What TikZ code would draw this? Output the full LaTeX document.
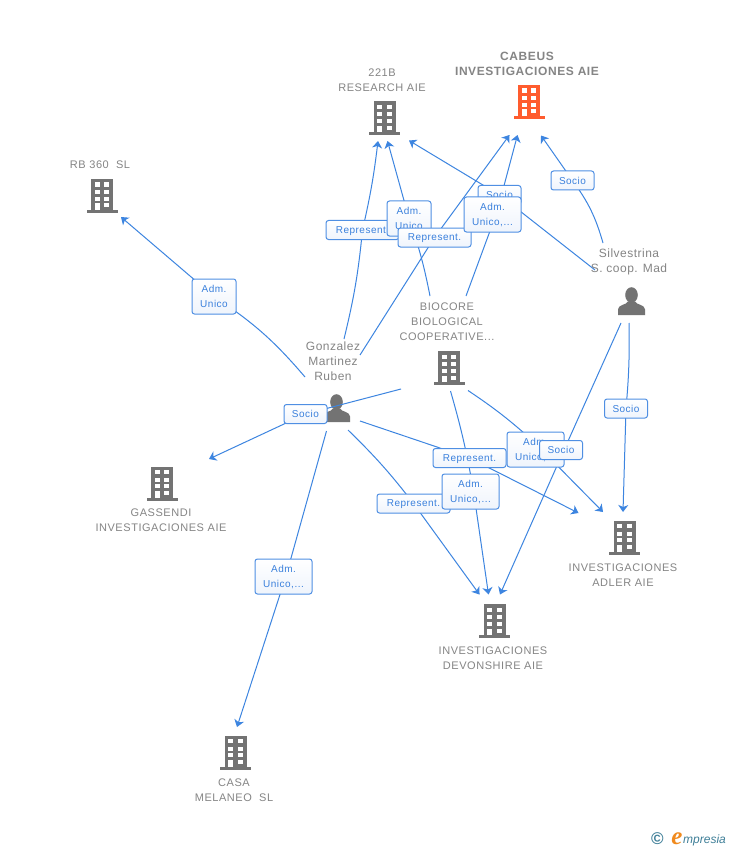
\documentclass[tikz,border=0pt]{standalone}
\usepackage{fontspec}
\setmainfont{Liberation Sans}
\newfontfamily\logoserif{Liberation Serif}
\newfontfamily\capfont[LetterSpace=5]{Liberation Sans}
\newfontfamily\capbigfont[LetterSpace=4]{Liberation Sans}
\newfontfamily\capboldfont[LetterSpace=4.8]{Liberation Sans Bold}
\newfontfamily\tagfont[LetterSpace=5]{Liberation Sans}
\usetikzlibrary{arrows.meta,backgrounds}
\definecolor{linkblue}{HTML}{3D85E0}
\definecolor{boxedge}{HTML}{4F8FE3}
\definecolor{boxtext}{HTML}{3A80DC}
\definecolor{boxlow}{HTML}{EFF4FC}
\definecolor{iconGray}{HTML}{737373}
\definecolor{capGray}{HTML}{858585}
\definecolor{hotOrange}{HTML}{FF5C2E}
\definecolor{logoTeal}{HTML}{3F7F98}
\definecolor{logoOrange}{HTML}{F08A1E}
\newcommand{\towericon}[1]{%
  \begin{scope}[shift={(path picture bounding box.center)}]
    \fill[#1] (-15.5,14) rectangle (15.5,17);
    \fill[#1] (-11,-17) rectangle (11,15);
    \fill[white] (-7.5,-13.5) rectangle (-2.5,-9.3);
    \fill[white] (2,-13.5) rectangle (7,-9.3);
    \fill[white] (-7.5,-6) rectangle (-2.5,-2);
    \fill[white] (2,-6) rectangle (7,-2);
    \fill[white] (-7.5,0.8) rectangle (-2.5,4.8);
    \fill[white] (2,0.8) rectangle (7,4.8);
    \fill[white] (-7.5,7.5) rectangle (-2.5,14);
    \fill[white] (2,7.5) rectangle (7,11.5);
  \end{scope}}
\newcommand{\manicon}{%
  \begin{scope}[shift={(path picture bounding box.center)}]
    \fill[iconGray] (0,-6.5) ellipse (6.3 and 7.8);
    \fill[iconGray] (-13.5,13.5) -- (-13.5,8) .. controls (-13.5,3) and (-5,3.5) .. (-3.5,0)
      -- (3.5,0) .. controls (5,3.5) and (13.5,3) .. (13.5,8) -- (13.5,13.5) -- cycle;
  \end{scope}}
\tikzset{
  x=1pt,y=-1pt,
  conn/.style={draw=linkblue,line width=1pt},
  linkarrow/.style={conn,-{Stealth[length=7pt,width=10pt,inset=2pt]}},
  towerbox/.style={minimum width=32pt,minimum height=36pt,inner sep=0pt,path picture={\towericon{iconGray}}},
  hottower/.style={minimum width=32pt,minimum height=36pt,inner sep=0pt,path picture={\towericon{hotOrange}}},
  manbox/.style={minimum width=28pt,minimum height=30pt,inner sep=0pt,path picture={\manicon}},
  capsmall/.style={text=capGray,font=\capfont\fontsize{11}{15}\selectfont,align=center,inner sep=0pt},
  capbig/.style={text=capGray,font=\capbigfont\fontsize{12}{15}\selectfont,align=center,inner sep=0pt},
  capbold/.style={text=capGray,font=\capboldfont\fontsize{12}{15}\selectfont,align=center,inner sep=0pt},
  tagbox/.style={draw=boxedge,line width=1pt,rounded corners=2.5pt,top color=white,bottom color=boxlow,
    text=boxtext,font=\tagfont\fontsize{10}{15}\selectfont,align=center,inner sep=0pt,text depth=0pt},
  tagS/.style={tagbox,minimum width=43pt,minimum height=19pt},
  tagR/.style={tagbox,minimum width=73pt,minimum height=19pt},
  tagA/.style={tagbox,minimum width=44pt,minimum height=35pt},
  tagU/.style={tagbox,minimum width=57pt,minimum height=35pt},
}
\begin{document}
\begin{tikzpicture}
\useasboundingbox (0,0) rectangle (728,850);

% captions
\node[capbold] (capCabeus) at (527,63.5) {CABEUS\\INVESTIGACIONES AIE};
\node[capsmall] (cap221) at (382,80) {221B\\RESEARCH AIE};
\node[capsmall] (capRB) at (100,165) {RB 360\ \ SL};
\node[capbig] (capSilv) at (629,262) {Silvestrina\\S. coop. Mad};
\node[capsmall] (capBio) at (447,322) {BIOCORE\\BIOLOGICAL\\COOPERATIVE...};
\node[capbig] (capGon) at (333,361) {Gonzalez\\Martinez\\Ruben};
\node[capsmall] (capGas) at (161,520) {GASSENDI\\INVESTIGACIONES AIE};
\node[capsmall] (capAdl) at (623,575) {INVESTIGACIONES\\ADLER AIE};
\node[capsmall] (capDev) at (493,658) {INVESTIGACIONES\\DEVONSHIRE AIE};
\node[capsmall] (capCasa) at (234,790) {CASA\\MELANEO\ \ SL};

% icons
\node[hottower] (cabeus) at (529,102) {};
\node[towerbox] (r221) at (384.5,118.5) {};
\node[towerbox] (rb360) at (102,196) {};
\node[towerbox] (biocore) at (449,368) {};
\node[towerbox] (gassendi) at (162,483.5) {};
\node[towerbox] (adler) at (624.5,537.5) {};
\node[towerbox] (devon) at (494.5,621) {};
\node[towerbox] (casa) at (235.5,752.5) {};

% edge labels
\node[tagA] (tRB) at (214,296.5) {Adm.\\Unico};
\node[tagR] (tRep1) at (362.5,230) {Represent.};
\node[tagA] (tAdm1) at (409,218.5) {Adm.\\Unico};
\node[tagR] (tRep2) at (434.5,237.5) {Represent.};
\node[tagS] (tSoc1) at (499.5,195) {Socio};
\node[tagU] (tAdm2) at (492.5,214.5) {Adm.\\Unico,...};
\node[tagS] (tSoc2) at (572.5,180.5) {Socio};
\node[tagS] (tSoc3) at (305.5,414) {Socio};
\node[tagU] (tCasa) at (283.5,576.5) {Adm.\\Unico,...};
\node[tagS] (tSoc4) at (626,408.5) {Socio};
\node[tagU] (tAdm3) at (535.5,449.5) {Adm.\\Unico,...};
\node[tagR] (tRep3) at (469.5,458) {Represent.};
\node[tagS] (tSoc5) at (561,450) {Socio};
\node[tagR] (tRep4) at (413.5,503.5) {Represent.};
\node[tagU] (tAdm4) at (470.5,491.5) {Adm.\\Unico,...};

% free ends of the connectors
\coordinate (gonA) at (305,377);
\coordinate (gonB) at (344,339);
\coordinate (gonC) at (360,355);
\coordinate (gonD) at (326.5,431);
\coordinate (gonE) at (360,421);
\coordinate (gonF) at (348,430);
\coordinate (bioA) at (430,296);
\coordinate (bioB) at (466,296);
\coordinate (bioC) at (401,389);
\coordinate (bioD) at (450.5,391);
\coordinate (bioE) at (468,390.5);
\coordinate (silA) at (595,270);
\coordinate (silB) at (603,243);
\coordinate (silC) at (621,323);
\coordinate (silD) at (629,323);
\coordinate (inRB) at (121,217);
\coordinate (in221a) at (378,141);
\coordinate (in221b) at (387.5,141);
\coordinate (in221c) at (409,140.5);
\coordinate (inCabA) at (509.5,135);
\coordinate (inCabB) at (517.5,135);
\coordinate (inCabC) at (541,135.5);
\coordinate (inGas) at (209,459);
\coordinate (inCasa) at (237,727);
\coordinate (inAdlA) at (578.5,513);
\coordinate (inAdlB) at (603,512);
\coordinate (inAdlC) at (623,512);
\coordinate (inDevA) at (479.5,594.5);
\coordinate (inDevB) at (488.5,594.5);
\coordinate (inDevC) at (500,594.5);
% bends hidden under the labels
\coordinate (viaCabB) at (497,212);
\coordinate (viaSilC) at (564,450);
\coordinate (viaAdlB) at (533,441);
\coordinate (viaDevB) at (473.5,491);
\coordinate (viaCasa) at (286,576);

\begin{pgfonlayer}{background}
\fill[white] (0,0) rectangle (728,850);
\node[manbox] (gonzalez) at (336.5,408.5) {};
\node[manbox] (silvestrina) at (631.5,301.5) {};

\draw[conn] (gonA) to[bend right=8] (tRB.center);
\draw[linkarrow] (tRB.center) -- (inRB);
\draw[conn] (gonB) to[bend right=4] (tRep1.center);
\draw[linkarrow] (tRep1.center) to[bend right=3] (in221a);
\draw[conn] (bioA) to[bend right=4] (tAdm1.center);
\draw[linkarrow] (tAdm1.center) -- (in221b);
\draw[conn] (gonC) -- (tRep2.center);
\draw[linkarrow] (tRep2.center) -- (inCabA);
\draw[conn] (bioB) -- (viaCabB);
\draw[linkarrow] (viaCabB) -- (inCabB);
\draw[conn] (silA) -- (tSoc1.center);
\draw[linkarrow] (tSoc1.center) -- (in221c);
\draw[conn] (silB) to[bend right=10] (tSoc2.center);
\draw[linkarrow] (tSoc2.center) -- (inCabC);
\draw[conn] (bioC) -- (tSoc3.center);
\draw[linkarrow] (tSoc3.center) -- (inGas);
\draw[conn] (gonD) -- (viaCasa);
\draw[linkarrow] (viaCasa) -- (inCasa);
\draw[conn] (gonE) -- (tRep3.center);
\draw[linkarrow] (tRep3.center) -- (inAdlA);
\draw[conn] (gonF) to[bend left=4] (tRep4.center);
\draw[linkarrow] (tRep4.center) -- (inDevA);
\draw[conn] (bioD) to[bend left=3] (viaDevB);
\draw[linkarrow] (viaDevB) -- (inDevB);
\draw[conn] (bioE) to[bend left=4] (viaAdlB);
\draw[linkarrow] (viaAdlB) -- (inAdlB);
\draw[conn] (silC) -- (viaSilC);
\draw[linkarrow] (viaSilC) -- (inDevC);
\draw[conn] (silD) to[bend left=3] (tSoc4.center);
\draw[linkarrow] (tSoc4.center) -- (inAdlC);
\end{pgfonlayer}

% logo
\node[text=logoTeal,font=\bfseries\fontsize{17}{17}\selectfont,inner sep=0pt] (logoC) at (657.5,839) {©};
\node[text=logoOrange,font=\logoserif\itshape\bfseries\fontsize{25}{25}\selectfont,inner sep=0pt,anchor=base] (logoE) at (677,844) {e};
\node[text=logoTeal,font=\itshape\fontsize{12}{14}\selectfont,inner sep=0pt,anchor=base west] (logoT) at (683,843) {mpresia};
\end{tikzpicture}
\end{document}
